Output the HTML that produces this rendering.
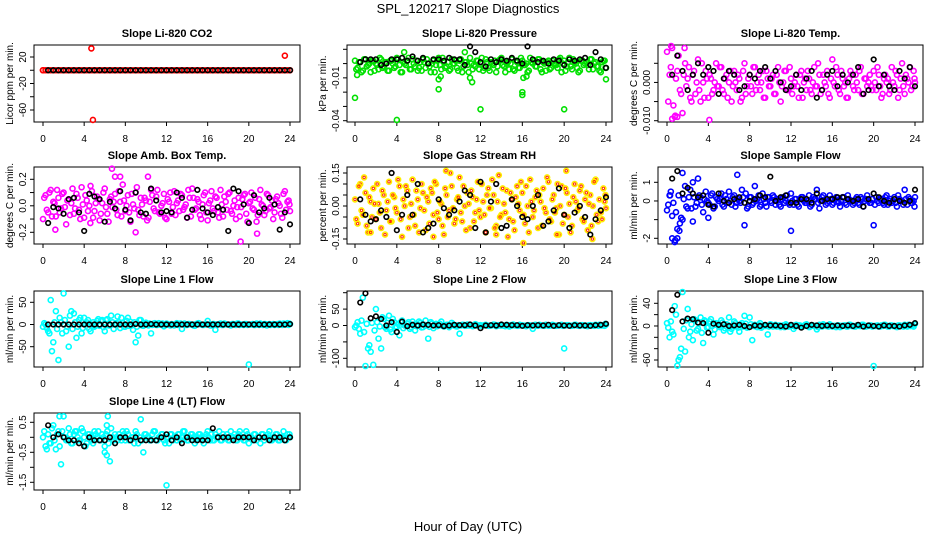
<!DOCTYPE html>
<html><head><meta charset="utf-8"><style>
html,body{margin:0;padding:0;background:#fff;}
svg{display:block;font-family:"Liberation Sans",sans-serif;}
</style></head><body>
<svg id="chart" width="936" height="540" viewBox="0 0 936 540">
<text x="468" y="13" text-anchor="middle" font-size="13">SPL_120217  Slope Diagnostics</text>
<text x="468" y="531" text-anchor="middle" font-size="13">Hour of Day (UTC)</text>
</svg>
<script>
const T=[0,.25,.5,.75,1,1.25,1.5,1.75,2,2.25,2.5,2.75,3,3.25,3.5,3.75,4,4.25,4.5,4.75,5,5.25,5.5,5.75,6,6.25,6.5,6.75,7,7.25,7.5,7.75,8,8.25,8.5,8.75,9,9.25,9.5,9.75,10,10.25,10.5,10.75,11,11.25,11.5,11.75,12,12.25,12.5,12.75,13,13.25,13.5,13.75,14,14.25,14.5,14.75,15,15.25,15.5,15.75,16,16.25,16.5,16.75,17,17.25,17.5,17.75,18,18.25,18.5,18.75,19,19.25,19.5,19.75,20,20.25,20.5,20.75,21,21.25,21.5,21.75,22,22.25,22.5,22.75,23,23.25,23.5,23.75,24];
const T2=[.12,.37,.62,.87,1.12,1.37,1.62,1.87,2.12,2.37,2.62,2.87,3.12,3.37,3.62,3.87,4.12,4.37,4.62,4.87,5.12,5.37,5.62,5.87,6.12,6.37,6.62,6.87,7.12,7.37,7.62,7.87,8.12,8.37,8.62,8.87,9.12,9.37,9.62,9.87,10.12,10.37,10.62,10.87,11.12,11.37,11.62,11.87,12.12,12.37,12.62,12.87,13.12,13.37,13.62,13.87,14.12,14.37,14.62,14.87,15.12,15.37,15.62,15.87,16.12,16.37,16.62,16.87,17.12,17.37,17.62,17.87,18.12,18.37,18.62,18.87,19.12,19.37,19.62,19.87,20.12,20.37,20.62,20.87,21.12,21.37,21.62,21.87,22.12,22.37,22.62,22.87,23.12,23.37,23.62,23.87,23.95];
const B=[.5,1,1.5,2,2.5,3,3.5,4,4.5,5,5.5,6,6.5,7,7.5,8,8.5,9,9.5,10,10.5,11,11.5,12,12.5,13,13.5,14,14.5,15,15.5,16,16.5,17,17.5,18,18.5,19,19.5,20,20.5,21,21.5,22,22.5,23,23.5,24];
const xTicks=[0,4,8,12,16,20,24];

// Panel 1: CO2 (ppm/min)
const co2A=[0,0,0,0,0,0,0,0,0,0,0,0,0,0,0,0,0,0,0,0,0,0,0,0,0,0,0,0,0,0,0,0,0,0,0,0,0,0,0,0,0,0,0,0,0,0,0,0,0,0,0,0,0,0,0,0,0,0,0,0,0,0,0,0,0,0,0,0,0,0,0,0,0,0,0,0,0,0,0,0,0,0,0,0,0,0,0,0,0,0,0,0,0,0,0,0,0];
const co2OutH=[0,4.7,4.85,23.5];
const co2OutV=[0,33,-75,22];
const co2Blk=[0,0,0,0,0,0,0,0,0,0,0,0,0,0,0,0,0,0,0,0,0,0,0,0,0,0,0,0,0,0,0,0,0,0,0,0,0,0,0,0,0,0,0,0,0,0,0,0];
// Panel 2: Pressure (x0.001 kPa/min)
const presA=[2,-3,1,-5,3,-1,-6,2,0,-4,3,-2,1,-5,2,-3,4,-1,-6,0,2,-4,3,-2,-5,1,3,-3,0,-6,2,-1,4,-4,1,-2,-5,3,0,-3,2,-6,1,-1,4,-4,-2,2,0,-5,3,-3,1,-1,-6,2,4,-2,0,-4,3,-5,1,-3,2,-1,-6,4,0,-2,3,-4,1,-5,2,-3,0,-1,3,-6,2,-2,4,-4,1,-3,-5,2,0,-1,3,-4,1,-2,-6,2,-3];
const presB=[-4,1,-6,3,-2,0,2,-5,-1,4,-3,1,-5,2,0,-2,3,-6,1,-1,4,-4,0,2,-3,-5,1,3,-2,0,-6,2,-1,4,-3,1,-4,0,2,-5,3,-2,1,-6,0,-1,2,-4,4,-3,1,-5,0,2,-2,3,-1,-6,1,0,-4,2,-3,4,-1,0,-5,1,2,-2,3,-6,0,1,-4,2,-1,-3,4,0,-5,1,-2,3,0,-6,2,-1,1,-4,3,0,-2,-5,1,2,-3];
const presOutH=[0,0.2,4,8,8,8.2,11,11.2,12,16,16,16.1,16.4,20,24,4.7,10.5];
const presOutV=[-24,-8,-39.5,-18,-11,-9,-10,-13,-32,-20,-22,-10,-9,-32,-11,8,8];
const presBlk=[1,3,3,3,-1,0,3,3,4,2,5,2,4,0,3,3,2,4,3,3,-1,12,8,1,-2,3,1,3,2,4,2,0,12,3,1,2,0,3,2,-1,3,2,3,4,-1,8,3,-3];
// Panel 3: Li-820 temp (x0.001 C/min)
const tmpA=[8,2,9,-9,3,-2,-8,5,1,-4,2,-3,6,-5,0,3,-4,1,-2,5,-1,4,-3,2,0,-5,3,-2,1,-4,5,-1,2,-3,4,0,-2,3,-4,1,-1,2,-3,4,-5,0,3,-2,1,-1,2,-4,3,0,-2,1,-3,4,-1,2,-2,0,3,-4,6,-1,2,-3,1,0,-4,3,-1,2,-2,4,-3,1,0,-1,3,-2,2,-4,1,0,-3,4,-1,2,-2,5,-3,1,4,-1,0];
const tmpB=[-5,4,-6,1,7,-3,2,-1,4,-5,3,0,-2,5,-4,1,2,-3,0,-1,4,-2,1,-4,3,-1,0,2,-5,3,-3,1,-1,4,-2,2,0,-4,3,-1,1,-3,2,0,-1,3,-2,4,-3,0,-1,2,-4,1,3,-2,0,-1,5,-3,2,-1,-3,1,0,4,-2,3,-1,-4,1,2,-2,0,3,-3,1,-1,2,-2,0,4,-1,-3,2,1,-2,0,3,-4,1,-1,2,0,-2,3,1];
const tmpOutH=[0.5,0.8,1,4.1,0.4,1.7];
const tmpOutV=[-9.5,-8.7,-9,-9.8,9.6,9];
const tmpBlk=[2,7,3,-2,2,5,2,4,3,-3,1,3,2,-2,-1,2,1,3,4,1,3,0,-2,-1,2,-2,1,3,-4,-2,2,3,-1,2,0,2,4,-3,-2,6,-1,2,-1,-2,3,1,4,-1];
// Panel 4: Amb box temp (x0.01 C/min)
const ambA=[-10,8,-5,12,3,-8,6,-2,10,-14,5,2,-6,9,-3,14,-9,4,0,11,-4,7,-11,2,13,-6,5,-1,9,-7,3,16,-4,8,-12,1,10,-3,6,-8,4,-9,12,-2,7,-5,0,9,-10,3,-6,11,2,-4,8,-1,-9,6,13,-3,5,-7,1,10,-11,4,-2,7,-5,12,-8,3,9,-4,0,-10,6,-1,8,-6,2,10,-3,-12,5,1,-7,9,-2,4,-5,7,0,-9,11,3,-4];
const ambB=[6,-3,10,-8,2,12,-5,9,-1,4,-7,13,-2,6,-10,1,8,-4,15,-9,2,5,-6,10,-1,-12,7,3,-3,11,-8,4,0,-5,9,-2,14,-7,1,6,-11,3,8,-4,12,-6,2,-9,5,10,-1,-7,4,9,-3,1,12,-8,6,-2,3,-10,8,-5,2,11,-4,6,-9,1,7,-3,10,-6,4,-1,-8,5,9,-12,3,-2,6,-7,12,0,-4,8,-1,-10,5,2,-6,9,-3,4,1];
const ambOutH=[1.2,6.7,7,7.5,10.2,19.2,20.8,9,4.6];
const ambOutV=[-18,28,22,22,22,-27,-21,-20,-13];
const ambBlk=[-13,-1,-2,-6,5,6,-5,-19,9,7,5,-12,3,-2,11,-3,-11,10,-5,-6,13,4,-5,-4,-5,10,6,-9,-3,12,-2,-5,-7,-1,-3,-19,13,11,1,-13,8,-5,-2,6,1,-18,-5,-14];
// Panel 5: Gas stream RH (x0.01 %/min)
const rhA=[3,-8,10,-4,6,-12,2,8,-6,1,-10,5,-2,11,-7,4,-3,9,-14,0,7,-5,12,-9,3,-1,6,-11,2,8,-4,10,-6,1,-13,5,-2,9,-8,3,13,-7,0,6,-10,4,-3,11,-5,2,-12,8,-1,5,-9,14,-4,1,7,-6,3,-11,9,-2,6,-8,0,12,-5,4,-10,2,8,-3,11,-7,5,-1,-13,9,-4,6,1,-9,10,-2,7,-6,3,-11,5,0,12,-7,-3,8,-1];
const rhB=[-6,9,-2,13,-9,4,-5,1,10,-3,7,-13,2,-7,5,-1,12,-6,3,9,-10,1,-4,7,-12,10,-2,4,-8,6,11,-3,2,-9,8,-5,15,-1,-6,4,-3,9,-11,1,7,-7,3,-2,10,-4,5,-1,12,-10,2,-5,8,-3,-14,6,-7,4,1,11,-4,9,-12,2,-2,7,5,-9,-1,13,-6,3,-3,10,0,-8,8,-5,-12,4,2,-1,9,-7,6,1,-9,11,-4,3,-6,2,5];
const rhOutH=[8.7,20.2,16.1,22.7,13.5,7.5,1.5,19.3];
const rhOutV=[16,16,-17,-15,-13,-14,-12,-13];
const rhBlk=[3,-4,-7,-6,-2,-5,15,-11,-4,5,-4,10,-12,-10,-8,3,-1,-4,-2,2,7,5,-10,11,-12,2,10,-10,-9,3,0,-5,-6,0,5,-9,-7,-2,8,-4,-10,-3,0,-5,-13,-6,-2,4];
// Panel 6: Sample flow (x0.1 ml/min/min)
const sfA=[-5,3,-8,-22,-15,-12,-10,8,-4,6,10,-3,12,2,-6,5,-1,3,-4,2,0,4,-3,1,5,-2,3,-1,0,6,-13,-4,2,-2,8,1,-3,4,-1,2,0,3,-2,1,-3,2,0,-1,4,-2,1,-3,2,0,-1,3,-2,1,6,-4,2,0,-1,3,-2,1,0,-3,2,-1,3,0,-2,1,-1,2,-3,1,0,-1,-13,2,-1,1,-2,3,0,-1,2,-3,1,0,6,-2,1,-1,2];
const sfB=[-2,5,-1,-6,3,-9,1,-3,2,-4,2,-1,3,-2,1,0,-2,4,-3,1,1,-2,3,-1,0,2,-3,1,-1,2,4,-3,2,-1,0,3,-2,1,-3,2,-1,2,0,-2,1,-1,3,-2,0,1,-2,1,2,-1,0,-3,2,1,-1,0,3,-2,0,1,-1,2,-1,0,2,-2,1,0,-1,2,-2,1,0,3,-1,1,-2,0,1,-1,2,-2,1,0,-1,3,0,-2,1,2,-1,0,-3];
const sfOutH=[0.8,1,1.5,2.5,12,6.8,0.5,0.3,1.2,4];
const sfOutV=[-21,-20,15,-11,-16,14,-20,3,-16,-9];
const sfBlk=[12,16,4,7,4,2,3,-2,-3,4,0,-1,1,2,-1,0,1,3,2,13,0,2,3,-1,-1,1,1,-1,4,0,1,1,2,2,1,0,1,-3,1,4,2,0,-1,1,0,-1,0,6];
// Panel 7: Line 1 flow
const l1A=[-5,0,-15,55,-40,30,-80,5,70,-15,-50,30,25,-30,10,-20,15,5,-10,0,-5,8,-3,10,-15,12,-2,5,0,18,-8,3,-5,15,6,-12,-40,-25,10,-3,4,-2,-20,2,-1,3,0,-4,2,-1,1,-2,3,0,-10,2,-1,1,0,-3,2,1,-1,0,8,-2,1,-12,0,2,-1,1,0,-2,1,-1,2,0,-1,1,-90,0,-1,2,-1,0,1,-2,1,0,-1,1,2,-1,0,3,1];
const l1B=[3,-8,-20,-60,5,-10,15,-20,10,-5,20,-10,5,-5,15,-8,2,10,-15,5,-3,12,8,-6,10,-2,20,-10,3,5,15,-5,8,-3,-2,5,-5,10,-2,1,0,2,-1,3,-1,0,2,-1,1,-2,0,1,-1,2,0,-1,1,0,-2,1,3,0,-1,1,0,-2,1,0,1,-1,2,0,-1,1,0,2,-1,0,1,-1,0,1,-1,0,2,-1,1,0,-1,1,0,-1,1,2,0,-1,2];
const l1Blk=[0,0,0,0,0,0,0,0,0,0,0,0,0,0,0,0,0,1,0,0,1,0,0,0,0,0,0,0,0,0,0,0,0,0,0,0,0,0,0,0,0,0,0,0,0,0,0,1];
// Panel 8: Line 2 flow
const l2A=[-5,10,-25,85,-130,-70,-80,-120,50,-40,-70,20,-10,30,-20,10,-5,-30,15,0,5,-10,12,-15,3,8,-5,15,-40,10,-8,5,0,12,-3,2,-5,8,0,-3,-25,2,-1,3,0,-2,4,-1,1,0,2,-1,0,3,-2,1,0,-1,2,-3,0,1,-1,2,0,-1,1,0,-10,2,-1,1,0,2,-1,0,1,-1,0,2,-70,1,0,-1,2,0,-1,1,0,-2,1,0,2,-1,0,1,3];
const l2B=[0,-10,15,-20,5,-60,8,-15,10,-3,25,-5,8,-12,20,-3,5,10,-8,0,10,-5,3,-2,12,-6,2,0,-4,6,3,-2,5,-1,0,2,-1,3,-2,1,0,2,-1,0,1,-1,2,0,-1,1,0,-1,1,2,-1,0,1,-2,0,1,3,0,-1,1,0,-2,1,0,1,-1,2,0,-1,1,0,2,-1,0,1,-1,0,1,-1,0,2,-1,1,0,-1,1,0,-1,1,2,0,-1,5];
const l2Blk=[70,98,22,28,20,0,10,-20,12,-2,2,0,3,2,0,1,-2,0,2,1,1,3,0,-8,0,1,0,3,2,1,1,-1,1,0,1,0,2,-1,1,0,-1,1,0,0,-1,1,2,5];
// Panel 9: Line 3 flow
const l3A=[5,-20,-10,35,-70,-55,60,-45,30,-10,-25,10,-5,15,-30,8,-2,12,-15,5,0,10,-8,3,15,-5,8,0,-10,5,18,-3,15,-25,2,-2,5,-1,0,-15,3,-1,2,0,-2,1,3,-1,0,-5,2,1,-1,0,3,-2,1,0,-6,2,-1,1,0,3,-1,0,1,-2,0,1,-1,2,0,-1,1,0,2,-1,0,1,-72,0,-1,1,2,0,-1,1,0,-2,1,0,2,-1,0,1,4];
const l3B=[-3,8,-15,20,-60,-40,-5,10,-20,3,12,-8,5,-12,10,-3,8,0,-6,4,-2,6,-4,2,-10,0,5,-3,2,-1,4,-2,3,0,-1,2,-3,1,0,-1,2,0,-1,1,0,-2,1,0,1,-1,0,1,-1,2,0,-1,1,0,-2,1,3,0,-1,1,0,-2,1,0,1,-1,2,0,-1,1,0,2,-1,0,1,-1,0,1,-1,0,2,-1,1,0,-1,1,0,-1,1,2,0,-1,3];
const l3Blk=[28,55,8,13,12,6,5,-12,4,2,3,0,1,2,0,-2,1,0,2,1,1,0,-1,2,0,-3,0,2,1,0,1,0,1,0,1,0,2,-1,1,0,-1,1,0,0,-1,1,2,5];
// Panel 10: Line 4 flow (x0.1)
const l4A=[0,-3,1,-2,4,-4,2,-9,7,-1,3,-2,1,2,-1,3,0,-2,1,-1,2,0,-1,1,-3,2,-8,0,1,-1,0,2,-1,1,-1,0,2,-2,6,-5,1,0,-1,2,-1,0,1,-1,0,-2,1,0,-1,1,0,2,-1,0,1,-2,0,1,-1,0,2,-1,-1,1,0,-1,1,0,-1,2,0,-1,1,0,-1,2,-2,0,1,-1,0,1,-1,0,2,-1,0,1,-1,0,-1,1,0];
const l4B=[2,-4,-2,3,-1,1,-3,2,0,-1,1,-2,2,0,-1,2,-3,1,0,-2,1,2,-1,0,1,-2,3,-1,0,1,-1,1,2,-1,0,-2,1,0,-1,1,0,-1,1,2,-1,0,1,-2,0,1,-1,0,1,-1,2,0,-1,1,0,-1,1,0,-2,1,0,1,-1,0,2,-1,0,1,-1,0,1,-1,2,0,-1,1,0,-1,1,0,-2,1,0,1,-1,0,1,-1,0,2,-1,0,1];
const l4OutH=[12,6.3,6.2,6,1.6,6.2];
const l4OutV=[-16,7,4,-5,7,-6];
const l4Blk=[4,0,1,0,-1,-1,-2,-3,0,-1,-1,-1,0,-2,0,0,-1,0,-1,-1,-1,-1,0,1,-1,0,-2,0,-1,-1,-1,-1,3,0,0,0,-1,0,0,0,-1,0,0,-1,0,0,-1,0];

const yTicks1=[20,0,-20,-40,-60];
const yTicks2=[0.01,0,-0.01,-0.02,-0.03,-0.04];
const yTicks3=[0.005,0,-0.005,-0.01];
const yTicks4=[0.2,0.1,0,-0.1,-0.2];
const yTicks5=[0.15,0.1,0.05,0,-0.05,-0.1,-0.15];
const yTicks6=[1,0,-1,-2];
const yTicks7=[50,0,-50];
const yTicks8=[100,50,0,-50,-100];
const yTicks9=[40,20,0,-20,-40,-60];
const yTicks10=[0.5,0,-0.5,-1,-1.5];

const cols=[{L:34,R:300,x0:43,x24:290},{L:347,R:612,x0:355,x24:606},{L:658,R:923,x0:667,x24:915}];
const rows=[{T:45,B:122},{T:167,B:244},{T:291,B:367},{T:413,B:490}];

const panels=[
 {name:'co2',title:'Slope Li-820 CO2',ylab:'Licor ppm per min.',c:0,r:0,v1:20,p1:57,v2:-60,p2:110,div:1,ticks:yTicks1,labels:{'20':'20','-20':'-20','-60':'-60'},color:'#ff0000',sets:[co2A],outH:co2OutH,outV:co2OutV,blk:co2Blk},
 {name:'pressure',title:'Slope Li-820 Pressure',ylab:'kPa per min.',c:1,r:0,v1:0.01,p1:49.3,v2:-0.04,p2:120.7,div:1000,ticks:yTicks2,labels:{'-0.01':'-0.01','-0.04':'-0.04'},color:'#00e000',sets:[presA,presB],outH:presOutH,outV:presOutV,blk:presBlk},
 {name:'li820-temp',title:'Slope Li-820 Temp.',ylab:'degrees C per min.',c:2,r:0,v1:0.005,p1:63.3,v2:-0.01,p2:120.7,div:1000,ticks:yTicks3,labels:{'0':'0.000','-0.01':'-0.010'},color:'#ff00ff',sets:[tmpA,tmpB],outH:tmpOutH,outV:tmpOutV,blk:tmpBlk},
 {name:'amb-box-temp',title:'Slope Amb. Box Temp.',ylab:'degrees C per min.',c:0,r:1,v1:0.2,p1:179.3,v2:-0.2,p2:232.3,div:100,ticks:yTicks4,labels:{'0.2':'0.2','0':'0.0','-0.2':'-0.2'},color:'#ff00ff',sets:[ambA,ambB],outH:ambOutH,outV:ambOutV,blk:ambBlk},
 {name:'gas-stream-rh',title:'Slope Gas Stream RH',ylab:'percent per min.',c:1,r:1,v1:0.15,p1:173,v2:-0.15,p2:239,div:100,ticks:yTicks5,labels:{'0.15':'0.15','0':'0.00','-0.15':'-0.15'},color:'#ffee00',inner:'#ff2200',sets:[rhA,rhB],outH:rhOutH,outV:rhOutV,blk:rhBlk},
 {name:'sample-flow',title:'Slope Sample Flow',ylab:'ml/min per min.',c:2,r:1,v1:1,p1:182.3,v2:-2,p2:238.3,div:10,ticks:yTicks6,labels:{'1':'1','0':'0','-2':'-2'},color:'#0000ff',sets:[sfA,sfB],outH:sfOutH,outV:sfOutV,blk:sfBlk},
 {name:'line1-flow',title:'Slope Line 1 Flow',ylab:'ml/min per min.',c:0,r:2,v1:50,p1:302.3,v2:-50,p2:346.7,div:1,ticks:yTicks7,labels:{'50':'50','0':'0','-50':'-50'},color:'#00ffff',sets:[l1A,l1B],outH:[],outV:[],blk:l1Blk},
 {name:'line2-flow',title:'Slope Line 2 Flow',ylab:'ml/min per min.',c:1,r:2,v1:100,p1:292.7,v2:-100,p2:358.3,div:1,ticks:yTicks8,labels:{'50':'50','0':'0','-100':'-100'},color:'#00ffff',sets:[l2A,l2B],outH:[],outV:[],blk:l2Blk},
 {name:'line3-flow',title:'Slope Line 3 Flow',ylab:'ml/min per min.',c:2,r:2,v1:40,p1:303.3,v2:-60,p2:360,div:1,ticks:yTicks9,labels:{'40':'40','0':'0','-60':'-60'},color:'#00ffff',sets:[l3A,l3B],outH:[],outV:[],blk:l3Blk},
 {name:'line4-flow',title:'Slope Line 4 (LT) Flow',ylab:'ml/min per min.',c:0,r:3,v1:0.5,p1:422.3,v2:-1.5,p2:482.3,div:10,ticks:yTicks10,labels:{'0.5':'0.5','-0.5':'-0.5','-1.5':'-1.5'},color:'#00ffff',sets:[l4A,l4B],outH:l4OutH,outV:l4OutV,blk:l4Blk}
];

const NS='http://www.w3.org/2000/svg';
const svg=document.getElementById('chart');
function mk(tag,attrs,parent){const e=document.createElementNS(NS,tag);for(const k in attrs)e.setAttribute(k,attrs[k]);(parent||svg).appendChild(e);return e;}
const hourSets=[T,T2];

panels.forEach(p=>{
 const col=cols[p.c],row=rows[p.r];
 const g=mk('g',{});
 
 
 const xs=h=>col.x0+(col.x24-col.x0)*h/24;
 const ys=v=>p.p1+(p.p2-p.p1)*(v-p.v1)/(p.v2-p.v1);
 const box=mk('rect',{x:col.L,y:row.T,width:col.R-col.L,height:row.B-row.T,fill:'none',stroke:'#000','stroke-width':1},g);
 
 
 const t=mk('text',{x:(col.L+col.R)/2,y:row.T-8,'text-anchor':'middle','font-size':11,'font-weight':'bold'},g);
 t.textContent=p.title;
 
 
 const yl=mk('text',{x:0,y:0,'text-anchor':'middle','font-size':10,transform:`translate(${col.L-21},${(row.T+row.B)/2}) rotate(-90)`},g);
 yl.textContent=p.ylab;
 
 
 xTicks.forEach(h=>{
  const x=xs(h);
  mk('line',{x1:x,x2:x,y1:row.B,y2:row.B+4,stroke:'#000'},g);
  const tl=mk('text',{x:x,y:row.B+20,'text-anchor':'middle','font-size':10},g);
  tl.textContent=h;
  
  
 });
 p.ticks.forEach(v=>{
  const y=ys(v);
  mk('line',{x1:col.L-4,x2:col.L,y1:y,y2:y,stroke:'#000'},g);
  const lab=p.labels[String(v)];
  if(lab!==undefined){
   const tl=mk('text',{x:0,y:0,'text-anchor':'middle','font-size':10,transform:`translate(${col.L-8},${y}) rotate(-90)`},g);
   tl.textContent=lab;
   
   
  }
 });
 const clip=v=>Math.max(row.T+1,Math.min(row.B-1,ys(v)));
 function pt(h,v,stroke,r,w,name){
  const c=mk('circle',{cx:xs(h),cy:clip(v),r:r,fill:'none',stroke:stroke,'stroke-width':w},g);
  
  
 }
 p.sets.forEach((arr,si)=>{
  const H=hourSets[si%2];
  const n=Math.min(arr.length,H.length);
  for(let i=0;i<n;i++){
   pt(H[i],arr[i]/p.div,p.color,2.5,1.6,'data-point');
   if(p.inner) pt(H[i],arr[i]/p.div,p.inner,1.2,0.9,'data-point-inner');
  }
 });
 for(let i=0;i<Math.min(p.outH.length,p.outV.length);i++){
  pt(p.outH[i],p.outV[i]/p.div,p.color,2.5,1.6,'outlier-point');
  if(p.inner) pt(p.outH[i],p.outV[i]/p.div,p.inner,1.2,0.9,'outlier-point-inner');
 }
 for(let i=0;i<Math.min(p.blk.length,B.length);i++){
  pt(B[i],p.blk[i]/p.div,'#000',2.3,1.6,'reference-point');
 }
});
</script>
</body></html>
